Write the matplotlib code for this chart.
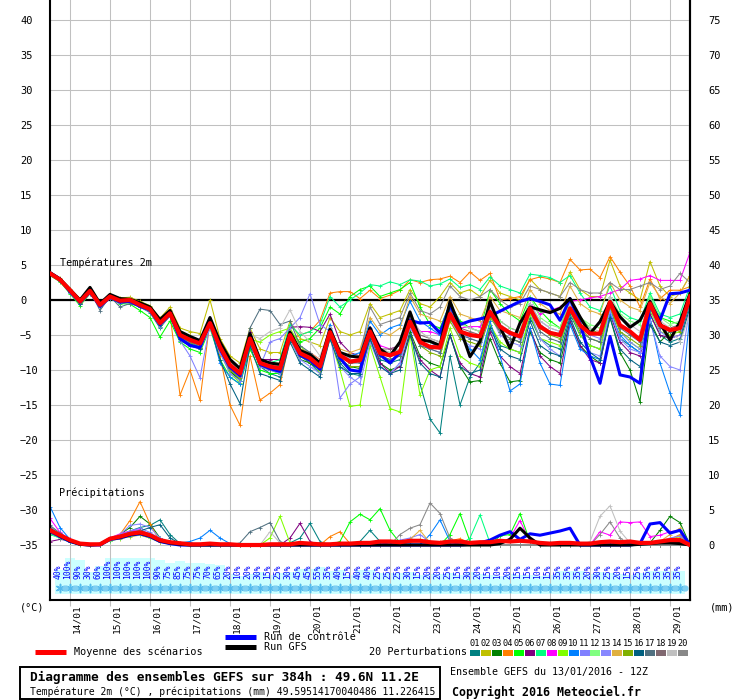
import matplotlib
matplotlib.use("Agg")
import matplotlib.pyplot as plt
from matplotlib import transforms
from matplotlib.patches import Rectangle

plt.rcParams['font.family'] = ['DejaVu Sans Mono']

# time axis: hours after 13/01/2016 12Z, one value every 6 h
steps = list(range(0, 385, 6))
day_hours = [12, 36, 60, 84, 108, 132, 156, 180, 204, 228, 252, 276, 300, 324, 348, 372]
day_labels = ["14/01", "15/01", "16/01", "17/01", "18/01", "19/01", "20/01", "21/01",
              "22/01", "23/01", "24/01", "25/01", "26/01", "27/01", "28/01", "29/01"]

# percentages shown in the bottom strip (steps 6h .. 378h)
pct = [40, 100, 90, 30, 60, 100, 100, 100, 100, 100, 90, 75, 85, 75, 75, 70, 65, 20, 10, 20, 30,
       15, 25, 30, 45, 45, 55, 35, 40, 15, 40, 40, 25, 25, 25, 30, 15, 20, 20, 25, 15, 30,
       20, 15, 10, 20, 15, 15, 10, 15, 35, 35, 35, 20, 30, 25, 20, 15, 25, 35, 35, 35, 35]
pct_hours = steps[1:64]

# ---- temperature 2m (°C) ----
t_mean = [3.8, 2.9, 1.4, -0.2, 1.3, -0.7, 0.5, -0.1, 0.0, -0.7, -1.3, -3.3, -1.9, -5.0, -5.7,
          -6.2, -3.3, -6.7, -9.3, -10.5, -5.5, -9.0, -9.5, -9.8, -5.0, -7.6, -8.3, -9.5, -4.6, -7.9,
          -8.8, -8.6, -4.5, -7.6, -7.9, -7.4, -3.1, -6.0, -6.7, -6.8, -2.0, -4.5, -5.0, -5.2, -1.7,
          -3.8, -4.7, -5.2, -1.2, -3.8, -4.7, -5.0, -1.2, -3.6, -4.8, -4.8, -0.3, -3.6, -4.5, -5.7,
          -0.5, -3.6, -4.3, -4.0, 0.5]
t_ctrl = [3.9, 3.0, 1.2, -0.3, 1.2, -0.9, 0.4, -0.3, -0.2, -0.9, -1.4, -3.5, -2.0, -5.5, -6.5,
          -6.8, -3.0, -7.0, -9.6, -10.8, -5.2, -9.2, -9.8, -10.2, -4.8, -7.9, -8.6, -9.9, -4.4, -8.3,
          -10.0, -10.2, -4.0, -7.8, -9.0, -7.5, -2.9, -3.3, -3.2, -4.7, -0.8, -3.5, -3.0, -2.7, -2.3,
          -1.6, -0.9, -0.2, 0.2, -0.2, -0.7, -2.9, 0.2, -3.3, -8.1, -11.9, -5.2, -10.7, -11.0, -11.9,
          -0.5, -2.9, 0.9, 1.0, 1.4]
t_gfs = [3.9, 3.0, 1.5, 0.0, 1.8, -0.5, 0.8, 0.2, 0.1, -0.4, -1.0, -2.8, -1.5, -4.5, -5.2,
         -5.8, -2.5, -6.0, -8.5, -9.8, -4.8, -8.5, -9.0, -9.2, -4.6, -7.2, -7.8, -9.0, -4.2, -7.5,
         -8.0, -8.2, -4.0, -7.0, -8.0, -6.0, -1.7, -5.7, -5.9, -6.5, -0.2, -4.0, -8.1, -5.9, -0.2,
         -3.8, -6.9, -3.3, -1.0, -1.4, -1.8, -1.2, 0.2, -2.4, -4.8, -3.1, -0.2, -2.4, -3.9, -2.9,
         -0.2, -3.3, -5.7, -3.1, 0.9]

t01 = [3.6, 2.8, 1.0, -0.5, 1.0, -0.9, 0.3, -0.4, -0.3, -1.0, -1.8, -4.0, -2.2, -5.8, -6.5,
       -7.0, -3.5, -7.2, -10.0, -11.5, -6.0, -9.5, -10.5, -11.0, -5.5, -8.0, -9.0, -10.5, -5.0, -9.0,
       -10.5, -10.8, -5.5, -8.5, -9.0, -8.5, -4.0, -12.0, -17.0, -19.0, -8.0, -15.0, -11.0, -9.0, -3.5,
       -6.5, -7.0, -7.5, -2.5, -5.5, -6.5, -7.0, -2.0, -5.0, -6.5, -7.0, -1.0, -5.5, -6.5, -7.5,
       -2.0, -5.0, -6.0, -5.5, -0.5]
t02 = [3.9, 3.1, 1.6, 0.2, 1.6, -0.4, 0.8, 0.3, 0.4, -0.2, -0.8, -2.6, -1.0, -4.0, -4.5,
       -4.8, 0.0, -5.5, -8.0, -9.0, -4.0, -7.0, -7.5, -7.5, -3.0, -5.5, -6.0, -6.5, -2.5, -4.5,
       -5.0, -4.5, -0.5, -2.5, -2.0, -1.5, 1.5, -0.5, -1.0, 0.5, 2.5, 1.0, 1.5, 0.5, 2.8,
       1.0, 0.5, 0.0, 3.0, 1.5, 1.0, 0.5, 4.0, 1.5, 0.5, 0.5, 5.7, 2.0, 1.0, 0.0,
       5.5, 2.0, 0.5, 1.0, 3.5]
t03 = [3.7, 2.8, 1.2, -0.4, 1.1, -0.8, 0.4, -0.2, -0.1, -0.8, -1.5, -3.8, -2.3, -5.5, -6.3,
       -6.8, -3.8, -7.5, -10.2, -11.5, -6.0, -9.5, -10.0, -10.5, -5.5, -8.5, -9.0, -10.0, -5.0, -8.5,
       -9.5, -9.8, -5.5, -9.0, -10.0, -9.5, -4.5, -8.0, -9.0, -9.5, -5.0, -9.5, -11.7, -11.5, -5.5,
       -9.0, -11.7, -11.5, -4.5, -7.5, -8.5, -9.0, -3.0, -6.5, -8.0, -9.0, -2.5, -7.5, -10.0, -14.5,
       -3.0, -6.0, -4.5, -3.5, 1.0]
t04 = [3.8, 2.9, 1.3, -0.3, 1.4, -0.6, 0.6, 0.0, -0.2, -1.0, -1.6, -3.5, -2.0, -13.6, -10.0,
       -14.3, -3.0, -8.0, -15.0, -17.9, -8.0, -14.3, -13.3, -12.1, -5.7, -5.0, -4.5, -2.9, 1.0, 1.2,
       1.2, 0.2, 1.4, 0.2, 0.7, 1.4, 2.9, 2.5, 2.9, 3.0, 3.4, 2.5, 4.0, 2.8, 3.8,
       0.0, 0.2, 0.5, 2.9, 3.3, 3.0, 2.5, 5.8, 4.3, 4.4, 3.2, 6.2, 4.0, 2.0, -1.0,
       3.0, 0.2, 1.4, 1.4, 1.9]
t05 = [3.5, 2.6, 0.9, -0.8, 0.9, -1.0, 0.2, -0.5, -0.6, -1.5, -2.5, -5.3, -3.0, -6.0, -7.0,
       -7.5, -4.0, -8.5, -11.0, -12.0, -7.0, -10.0, -10.5, -10.5, -4.5, -6.0, -5.5, -4.0, -1.0, -2.0,
       0.5, 1.5, 2.0, 0.5, 1.0, 1.5, 2.5, -1.0, -3.5, -4.0, -0.5, -3.0, -4.0, -4.5, 1.5,
       -0.5, -2.0, -3.0, 0.5, -1.5, -3.0, -4.0, 0.0, -2.5, -4.0, -5.0, -1.0, -3.5, -4.5, -5.5,
       0.5, -2.5, -3.0, -3.5, 1.5]
t06 = [3.8, 3.0, 1.5, 0.0, 1.5, -0.5, 0.7, 0.1, 0.2, -0.5, -1.0, -3.0, -1.5, -4.8, -5.5,
       -6.0, -3.0, -6.5, -9.0, -10.0, -4.5, -8.5, -8.5, -8.5, -3.9, -3.8, -3.9, -4.5, -2.0, -6.0,
       -7.5, -8.0, -5.0, -9.0, -10.4, -9.5, -5.0, -8.5, -10.0, -11.0, -5.0, -9.0, -10.5, -11.0, -4.5,
       -8.0, -9.5, -10.5, -4.0, -8.0, -9.5, -10.5, -3.0, -6.5, -8.5, -9.0, -2.0, -6.0, -7.5, -8.0,
       -2.0, -5.0, -5.5, -5.0, 0.0]
t07 = [3.8, 2.8, 1.3, -0.3, 1.2, -0.7, 0.5, -0.1, 0.0, -0.6, -1.2, -3.2, -1.8, -5.2, -6.0,
       -6.5, -3.5, -7.0, -9.5, -11.0, -6.0, -9.0, -9.0, -8.5, -3.5, -5.0, -4.5, -3.5, 0.5, -1.0,
       0.0, 1.0, 2.2, 2.0, 2.6, 2.2, 2.9, 2.7, 2.0, 2.3, 3.0, 1.8, 2.2, 1.5, 3.3,
       2.0, 1.5, 1.0, 3.7, 3.5, 3.2, 2.5, 3.5, 1.0, -1.0, -1.5, 2.0, -1.5, -2.5, -3.0,
       1.0, -2.0, -2.5, -2.0, 2.0]
t08 = [3.9, 3.0, 1.4, -0.1, 1.4, -0.6, 0.6, 0.0, 0.1, -0.6, -1.1, -2.9, -1.7, -4.5, -5.5,
       -6.0, -3.0, -6.5, -9.5, -11.0, -5.5, -9.0, -9.5, -10.0, -5.0, -7.0, -7.5, -8.5, -4.0, -7.5,
       -8.5, -8.5, -4.0, -6.5, -7.0, -6.5, -2.5, -4.5, -4.5, -5.0, -1.5, -4.0, -3.8, -3.8, -1.0,
       -3.0, -4.0, -4.5, -0.5, -2.0, -1.5, -1.0, -0.2, 0.0, 0.3, 0.5, 1.0, 1.5, 2.8, 3.0,
       3.5, 2.8, 2.8, 2.8, 6.8]
t09 = [3.7, 2.7, 1.1, -0.6, 1.0, -0.9, 0.3, -0.3, -0.2, -0.9, -1.6, -3.6, -2.0, -5.4, -6.2,
       -6.6, -3.6, -7.5, -10.5, -11.8, -5.6, -6.0, -5.0, -4.5, -4.0, -6.5, -8.0, -10.5, -5.5, -10.0,
       -15.2, -15.0, -6.5, -11.0, -15.5, -16.0, -5.0, -13.6, -10.0, -9.5, -4.0, -8.0, -9.0, -9.5, -3.5,
       -6.0, -7.0, -7.5, -2.0, -5.5, -6.0, -6.5, -1.5, -5.0, -6.5, -7.0, -1.0, -4.5, -6.0, -7.0,
       -1.5, -4.5, -5.0, -4.5, 0.5]
t10 = [3.6, 2.7, 1.2, -0.5, 1.1, -0.8, 0.4, -0.2, -0.1, -0.8, -1.4, -3.4, -2.0, -5.3, -6.0,
       -6.8, -3.4, -9.0, -11.0, -12.0, -6.5, -9.0, -9.5, -9.5, -4.5, -7.0, -7.5, -9.0, -3.5, -7.5,
       -8.0, -7.5, -3.0, -5.0, -4.0, -3.5, -0.2, -3.0, -4.0, -5.0, -1.0, -5.0, -7.0, -8.5, -3.0,
       -8.0, -13.0, -12.0, -4.0, -9.0, -12.0, -12.2, -3.5, -7.0, -8.0, -8.5, -2.0, -5.0, -6.5, -7.5,
       -2.5, -9.0, -13.3, -16.4, -2.0]
t11 = [3.7, 2.8, 1.3, -0.4, 1.2, -0.8, 0.4, -0.2, -0.1, -0.8, -1.4, -3.2, -2.0, -5.8, -8.0,
       -11.1, -3.5, -7.5, -10.5, -11.5, -6.0, -9.5, -6.0, -5.5, -4.0, -2.5, 0.9, -3.5, -4.5, -14.0,
       -12.0, -11.0, -5.0, -9.5, -10.5, -9.0, -3.0, -5.5, -6.0, -7.0, -1.5, -4.5, -5.5, -6.0, -2.0,
       -4.0, -5.0, -5.5, -0.5, -3.0, -4.0, -4.5, -0.5, -3.5, -5.0, -5.5, 0.5, -4.5, -6.0, -7.0,
       -1.0, -4.5, -5.5, -5.0, 0.0]
t12 = [3.8, 2.9, 1.4, -0.2, 1.3, -0.6, 0.6, 0.0, 0.1, -0.5, -1.0, -3.0, -1.5, -4.8, -5.5,
       -6.0, -3.2, -6.5, -9.0, -10.0, -5.0, -8.5, -9.0, -9.5, -4.8, -7.0, -7.8, -9.0, -4.5, -7.5,
       -8.0, -8.0, -4.0, -7.0, -7.5, -7.0, -2.5, -5.5, -6.0, -6.5, -1.5, -3.5, -4.0, -4.5, -0.5,
       -3.0, -4.0, -4.5, 0.5, -2.5, -3.5, -4.0, 0.0, -2.5, -3.5, -4.0, 0.5, -2.0, -3.0, -3.5,
       0.5, -2.5, -3.5, -3.0, 1.0]
t13 = [3.6, 2.7, 1.0, -0.6, 0.9, -1.0, 0.2, -0.4, -0.3, -1.0, -1.7, -3.8, -2.3, -5.5, -6.5,
       -7.0, -4.0, -7.5, -10.0, -11.0, -6.0, -9.5, -10.0, -10.5, -5.5, -8.5, -9.5, -10.5, -5.5, -9.5,
       -11.0, -12.0, -6.0, -9.5, -10.5, -9.0, -4.0, -6.5, -7.0, -7.5, -2.5, -5.5, -6.5, -7.0, -2.0,
       -5.0, -6.0, -6.5, -1.5, -5.5, -7.0, -8.0, -2.5, -6.0, -7.5, -8.0, -1.5, -5.5, -7.0, -7.5,
       -3.0, -8.0, -9.5, -10.0, -1.0]
t14 = [3.9, 3.0, 1.5, 0.0, 1.5, -0.5, 0.7, 0.1, 0.2, -0.4, -1.0, -2.8, -1.4, -4.5, -5.2,
       -5.8, -2.8, -6.0, -8.8, -10.0, -5.0, -8.5, -9.0, -9.0, -4.5, -7.0, -7.5, -8.5, -4.0, -7.0,
       -7.5, -7.0, -2.5, -4.5, -5.0, -4.0, 0.5, -2.0, -2.5, -3.0, 0.5, -2.0, -2.5, -3.0, 0.5,
       -1.5, -2.0, -2.5, 1.5, -0.5, -1.5, -2.0, 2.0, -0.5, -1.5, -2.0, 2.5, 0.0, -1.0, -1.5,
       2.5, 0.5, -0.5, 1.0, 3.5]
t15 = [3.7, 2.8, 1.2, -0.4, 1.2, -0.8, 0.4, -0.2, -0.1, -0.8, -1.4, -3.4, -2.0, -5.5, -6.2,
       -6.8, -3.5, -7.0, -10.0, -11.2, -6.0, -9.2, -9.8, -10.0, -5.2, -8.0, -8.8, -10.0, -5.0, -8.5,
       -9.5, -9.5, -5.0, -8.0, -8.5, -8.0, -3.5, -6.5, -7.5, -8.0, -3.0, -5.5, -6.0, -6.5, -2.5,
       -4.5, -5.5, -6.0, -1.5, -4.0, -5.0, -5.5, -1.5, -4.0, -5.5, -6.0, -1.0, -4.5, -5.5, -6.5,
       -1.0, -3.5, -4.0, -4.5, 0.5]
t16 = [3.6, 2.7, 1.1, -0.6, 1.0, -0.9, 0.3, -0.3, -0.2, -0.9, -1.6, -3.6, -2.1, -5.6, -6.3,
       -7.0, -3.6, -8.5, -12.0, -14.8, -6.5, -10.5, -11.0, -11.5, -6.0, -9.0, -10.0, -11.0, -5.5, -9.5,
       -10.5, -10.5, -5.5, -9.5, -10.5, -10.0, -5.0, -9.0, -10.5, -11.0, -5.0, -9.5, -10.5, -10.0, -4.0,
       -7.0, -8.0, -8.5, -3.0, -6.5, -7.5, -8.0, -2.5, -6.0, -7.5, -8.5, -2.5, -7.0, -8.5, -9.5,
       -3.5, -6.0, -6.5, -6.0, -1.0]
t17 = [3.8, 2.9, 1.4, -0.2, 1.3, -1.5, 0.5, -1.0, -0.5, -1.0, -1.6, -3.3, -1.8, -5.0, -5.6,
       -6.2, -3.3, -6.5, -9.0, -10.0, -4.0, -1.3, -1.5, -3.5, -3.0, -6.5, -7.5, -9.0, -4.5, -8.0,
       -9.0, -9.0, -4.5, -8.0, -8.5, -8.0, -3.5, -6.5, -7.0, -7.5, -2.5, -5.0, -5.5, -6.0, -2.0,
       -4.5, -5.5, -6.0, -1.5, -4.5, -5.5, -6.0, -1.5, -4.5, -5.5, -6.0, -0.5, -4.0, -5.0, -6.0,
       -1.0, -4.0, -4.5, -4.0, 0.5]
t18 = [3.7, 2.8, 1.3, -0.3, 1.2, -0.7, 0.5, -0.1, 0.0, -0.7, -1.3, -3.3, -1.9, -5.2, -6.0,
       -6.5, -3.5, -7.0, -9.5, -10.8, -5.8, -9.3, -9.8, -10.2, -5.3, -7.8, -8.5, -9.8, -4.8, -8.0,
       -9.0, -8.8, -4.2, -7.0, -7.0, -6.5, -2.5, -5.0, -5.5, -6.0, -1.5, -4.0, -4.5, -5.0, -1.5,
       -3.5, -4.5, -5.0, -1.0, -3.5, -4.5, -5.0, -1.0, -3.5, -4.5, -5.0, -0.5, -3.5, -4.5, -5.5,
       -0.5, -3.5, -4.0, -3.5, 1.0]
t19 = [3.8, 2.9, 1.4, -0.1, 1.4, -0.6, 0.6, 0.0, 0.1, -0.6, -1.2, -3.1, -1.8, -4.8, -5.5,
       -6.0, -3.0, -6.5, -9.0, -10.0, -5.0, -5.5, -4.5, -4.0, -1.4, -4.5, -6.0, -8.0, -4.0, -7.5,
       -8.5, -8.5, -4.0, -7.0, -7.5, -7.0, -2.0, -4.5, -5.5, -6.0, -1.0, -3.5, -4.0, -4.5, -1.0,
       -3.5, -4.5, -5.0, -0.5, -3.0, -4.0, -4.5, -0.5, -3.0, -4.0, -4.5, 0.5, -2.5, -3.5, -4.5,
       0.0, -3.0, -4.0, -6.0, -2.0]
t20 = [3.9, 3.0, 1.5, 0.0, 1.5, -0.5, 0.7, 0.1, 0.2, -0.5, -1.1, -3.0, -1.6, -4.8, -5.5,
       -6.0, -3.0, -6.5, -9.2, -10.5, -5.2, -8.8, -9.2, -9.5, -4.8, -7.3, -8.0, -9.2, -4.3, -7.5,
       -8.2, -8.0, -1.0, -3.5, -3.0, -2.5, 1.0, -1.5, -2.0, -1.0, 2.0, 0.5, 0.0, 0.5, 1.5,
       0.0, -1.0, -0.5, 2.0, 1.5, 1.0, 0.5, 2.5, 1.5, 1.0, 1.0, 2.5, 1.5, 1.5, 2.0,
       2.5, 1.5, 2.0, 3.8, 2.5]

# ---- precipitation (mm per 6 h) ----
p_mean = [2.1, 1.4, 0.7, 0.2, 0.1, 0.1, 0.9, 1.2, 1.6, 1.8, 1.4, 0.7, 0.4, 0.25, 0.1,
          0.1, 0.2, 0.1, 0.1, 0.0, 0.0, 0.0, 0.1, 0.1, 0.1, 0.3, 0.2, 0.1, 0.1, 0.2,
          0.2, 0.3, 0.3, 0.5, 0.5, 0.4, 0.6, 0.6, 0.4, 0.3, 0.5, 0.5, 0.3, 0.4, 0.4,
          0.6, 0.5, 0.6, 0.5, 0.3, 0.2, 0.3, 0.3, 0.2, 0.2, 0.4, 0.5, 0.4, 0.5, 0.3,
          0.3, 0.5, 0.7, 0.7, 0.0]
p_ctrl = [2.0, 1.2, 0.5, 0.1, 0.0, 0.0, 0.8, 1.0, 1.4, 1.6, 1.2, 0.5, 0.2, 0.0, 0.0,
          0, 0, 0, 0, 0, 0, 0, 0, 0, 0, 0, 0, 0, 0, 0,
          0, 0, 0, 0, 0, 0, 0, 0, 0, 0, 0, 0, 0.1, 0.3, 0.7,
          1.4, 1.9, 0.8, 1.6, 1.4, 1.7, 2.0, 2.4, 0.0, 0.0, 0, 0, 0, 0, 0.2,
          3.0, 3.2, 1.7, 2.1, 0.0]
p_gfs = [2.2, 1.3, 0.6, 0.1, 0.0, 0.1, 0.9, 1.1, 1.5, 1.7, 1.3, 0.6, 0.3, 0.1, 0.0,
         0, 0, 0, 0, 0, 0, 0, 0, 0, 0, 0, 0, 0, 0, 0,
         0, 0, 0, 0, 0, 0, 0, 0, 0, 0, 0, 0, 0, 0, 0,
         0.2, 0.8, 2.4, 1.0, 0.0, 0, 0, 0, 0, 0, 0, 0, 0, 0, 0.1,
         0.2, 0.3, 0.3, 0.2, 0.0]

p01 = [2.5, 1.5, 0.6, 0.1, 0.0, 0.0, 0.8, 1.3, 2.0, 2.5, 2.8, 3.6, 1.5, 0.2, 0.0,
       0, 0, 0, 0, 0, 0, 0, 0, 0, 0.3, 1.0, 3.1, 0.5, 0, 0,
       0, 0.5, 2.1, 0.5, 0, 0, 0, 0, 0, 0, 0, 0, 0, 0, 0,
       0, 0, 0, 0, 0, 0.3, 0.2, 0, 0, 0, 0, 0, 0, 0, 0,
       0, 0.3, 0.5, 0.5, 0]
p02 = [1.8, 1.2, 0.5, 0.1, 0.0, 0.1, 0.6, 0.9, 1.2, 1.4, 1.0, 0.4, 0.2, 0, 0,
       0, 0, 0, 0, 0, 0, 0, 0, 0, 0, 0, 0, 0, 0, 0,
       0, 0, 0, 0, 0, 0, 0.5, 0.8, 0.3, 0, 0, 0, 0, 0, 0,
       0, 0, 0, 0, 0, 0, 0, 0, 0, 0, 0, 0, 0, 0, 0,
       0, 0.3, 0.8, 1.2, 0]
p03 = [2.2, 1.4, 0.6, 0.1, 0.0, 0.1, 0.9, 1.5, 2.5, 4.1, 3.0, 1.0, 0.3, 0, 0,
       0, 0, 0, 0, 0, 0, 0, 0, 0, 0, 0, 0, 0, 0, 0,
       0, 0, 0, 0, 0, 0, 0, 0, 0, 0, 0, 0, 0, 0, 0,
       0, 0, 0, 0, 0, 0, 0, 0, 0, 0, 0, 0, 0, 0, 0,
       0.3, 2.1, 4.1, 3.2, 0]
p04 = [2.0, 1.3, 0.6, 0.1, 0.0, 0.1, 0.7, 1.5, 3.5, 6.2, 3.0, 0.5, 0.1, 0, 0,
       0, 0, 0, 0, 0, 0, 0, 0, 0, 0, 0, 0, 0, 1.2, 1.9,
       0.2, 0, 0, 0, 0, 0, 0, 0, 0.3, 0.5, 0.6, 0.9, 0.3, 0, 0,
       0, 0, 0, 0, 0, 0, 0, 0, 0, 0, 0, 0, 0.6, 0.4, 0,
       0, 0.3, 0.8, 1.5, 0]
p05 = [2.3, 1.6, 0.7, 0.2, 0.0, 0.0, 1.0, 1.4, 1.8, 2.0, 1.5, 0.8, 0.3, 0, 0,
       0, 0, 0, 0, 0, 0, 0, 0, 0, 0, 0, 0, 0, 0, 0.5,
       3.3, 4.4, 3.6, 5.2, 2.1, 0.3, 0, 0, 0, 0, 1.5, 4.5, 0.5, 0, 0,
       1.3, 1.5, 4.5, 0.5, 0, 0, 0, 0, 0, 0, 0, 0, 0, 0, 0,
       0, 0, 0, 0.8, 0]
p06 = [0.5, 0.8, 0.6, 0.1, 0.0, 0.1, 0.8, 1.2, 1.6, 1.8, 1.3, 0.6, 0.2, 0, 0,
       0, 0, 0, 0, 0, 0, 0, 0, 0, 1.0, 3.1, 0.5, 0, 0, 0,
       0, 0, 0, 0, 0, 0, 0, 0, 0, 0, 0, 0, 0, 0, 0,
       0, 0, 0, 0, 0, 0, 0, 0, 0, 0, 0, 0, 0, 0, 0,
       0, 0, 0, 0.5, 0]
p07 = [1.5, 1.0, 0.4, 0.0, 0.0, 0.0, 0.6, 1.0, 1.5, 2.0, 1.2, 0.5, 0.1, 0, 0,
       0, 0, 0, 0, 0, 0, 0, 0, 0, 0, 0, 0, 0, 0, 0,
       0, 0, 0, 0, 0, 0, 0, 0, 0, 0, 0, 0, 1.0, 4.3, 0.3,
       0, 0, 0, 0, 0, 0, 0, 0, 0, 0, 0, 0, 0, 0, 0,
       0, 0, 0.5, 0.8, 0]
p08 = [3.8, 1.8, 0.8, 0.2, 0.0, 0.1, 1.0, 1.6, 2.0, 2.2, 1.5, 0.7, 0.2, 0, 0,
       0, 0, 0, 0, 0, 0, 0, 0, 0, 0, 0, 0, 0, 0, 0,
       0, 0, 0, 0, 0, 0, 0, 0, 0, 0, 0, 0, 0, 0, 0,
       0, 1.0, 3.5, 0.5, 0, 0, 0, 0, 0, 0, 1.9, 1.4, 3.3, 3.2, 3.3,
       1.2, 1.4, 1.9, 2.1, 0]
p09 = [2.0, 1.3, 0.5, 0.1, 0.0, 0.0, 0.7, 1.1, 1.5, 1.7, 1.2, 0.5, 0.1, 0, 0,
       0, 0, 0, 0, 0, 0, 0, 1.0, 4.1, 0.3, 0, 0, 0, 0, 0,
       0, 0, 0, 0, 0, 0, 0, 0, 0, 0, 0, 0, 0, 0, 0,
       0, 0, 0, 0, 0, 0, 0, 0, 0, 0, 0, 0, 0, 0, 0,
       0, 0, 0, 0, 0]
p10 = [5.5, 2.5, 0.8, 0.1, 0.0, 0.1, 0.8, 1.2, 1.6, 1.8, 1.4, 0.8, 0.5, 0.3, 0.5,
       1.0, 2.1, 1.0, 0.2, 0, 0, 0, 0, 0, 0, 0, 0, 0, 0, 0,
       0, 0, 0, 0, 0, 0, 0, 0, 1.5, 3.6, 0.5, 0, 0, 0, 0,
       0, 0, 0, 0, 0, 0, 0, 0, 0, 0, 0, 0, 0, 0, 0,
       0, 0, 0, 0, 0]
p11 = [2.4, 1.5, 0.7, 0.1, 0.0, 0.1, 0.9, 1.4, 2.0, 2.4, 1.8, 0.9, 0.3, 0, 0,
       0, 0, 0, 0, 0, 0, 0, 0, 0, 0, 0, 0, 0, 0, 0,
       0, 0, 0, 0, 0.5, 0.7, 1.0, 1.5, 0.4, 0, 0, 0, 0, 0, 0,
       0, 0, 0, 0, 0, 0, 0, 0, 0, 0, 0, 0, 0, 0, 0,
       0, 0.5, 1.0, 1.3, 0]
p12 = [1.6, 1.0, 0.4, 0.0, 0.0, 0.0, 0.6, 1.0, 1.3, 1.5, 1.0, 0.4, 0.1, 0, 0,
       0, 0, 0, 0, 0, 0, 0, 0, 0, 0, 0, 0, 0, 0, 0,
       0, 0, 0, 0, 0, 0, 0, 0, 0, 0, 0, 0, 0, 0, 0,
       0, 0, 0, 0, 0, 0, 0, 0, 0, 0, 0, 0, 0, 0, 0,
       0, 0, 0, 0, 0]
p13 = [2.6, 1.7, 0.8, 0.2, 0.0, 0.1, 1.0, 1.5, 2.8, 3.0, 2.5, 1.0, 0.3, 0, 0,
       0, 0, 0, 0, 0, 0, 0, 0, 0, 0, 0, 0, 0, 0, 0,
       0, 0, 0, 0, 0, 0, 0, 0, 0, 0, 0, 0, 0, 0, 0,
       0, 0, 0, 0, 0, 0, 0, 0, 0, 0, 0, 0, 0, 0, 0,
       0, 0, 0, 0, 0]
p14 = [1.9, 1.2, 0.5, 0.1, 0.0, 0.1, 0.7, 1.1, 1.4, 1.6, 1.1, 0.4, 0.1, 0, 0,
       0, 0, 0, 0, 0, 0, 0, 0, 0, 0, 0, 0, 0, 0, 0,
       0, 0, 0, 0, 0, 0, 0.8, 2.1, 0.3, 0, 0, 0, 0, 0, 0,
       0, 0, 0, 0, 0, 0, 0, 0, 0, 0, 0, 0, 0, 0, 0,
       0, 0.5, 1.5, 2.4, 0]
p15 = [2.2, 1.4, 0.6, 0.1, 0.0, 0.0, 0.8, 1.2, 1.7, 1.9, 1.4, 0.6, 0.2, 0, 0,
       0, 0, 0, 0, 0, 0, 0, 0, 0, 0, 0, 0, 0, 0, 0,
       0, 0, 0, 0, 0, 0, 0, 0, 0, 0, 0, 0, 0, 0, 0,
       0, 0, 0, 0, 0, 0, 0, 0, 0, 0, 0, 0, 0, 0, 0,
       0, 0, 0, 0, 0]
p16 = [1.7, 1.1, 0.5, 0.1, 0.0, 0.0, 0.7, 1.1, 1.5, 2.0, 2.5, 2.9, 1.0, 0.2, 0,
       0, 0, 0, 0, 0, 0, 0, 0, 0, 0, 0, 0, 0, 0, 0,
       0, 0, 0, 0, 0, 0, 0, 0, 0, 0, 0, 0, 0, 0, 0,
       0, 0, 0, 0, 0, 0, 0, 0, 0, 0, 0, 0, 0, 0, 0,
       0, 0, 0, 0, 0]
p17 = [2.8, 1.7, 0.7, 0.1, 0.0, 0.1, 0.9, 1.3, 1.8, 2.1, 1.6, 0.7, 0.2, 0, 0,
       0, 0, 0, 0, 0.3, 1.9, 2.5, 3.2, 0.5, 0, 0, 0, 0, 0, 0,
       0, 0, 0, 0, 0, 0, 0, 0, 0, 0, 0, 0, 0, 0, 0,
       0, 0, 0, 0, 0, 0, 0, 0, 0, 0, 0, 0, 0, 0, 0,
       0, 0, 0, 0, 0]
p18 = [2.0, 1.3, 0.6, 0.1, 0.0, 0.1, 0.8, 1.2, 1.6, 1.8, 1.3, 0.6, 0.2, 0, 0,
       0, 0, 0, 0, 0, 0, 0, 0, 0, 0, 0, 0, 0, 0, 0,
       0, 0, 0, 0, 0, 0, 0, 0, 0, 0, 0, 0, 0, 0, 0,
       0, 0, 0, 0, 0, 0, 0, 0, 0, 0, 0, 0, 0, 0, 0,
       0, 0, 0, 0.4, 0]
p19 = [2.3, 1.5, 0.6, 0.1, 0.0, 0.1, 0.8, 1.2, 1.7, 1.9, 1.4, 0.6, 0.2, 0, 0,
       0, 0, 0, 0, 0, 0, 0, 1.9, 0.3, 0, 0, 0, 0, 0, 0,
       0, 0, 0, 0, 0, 0, 0, 0, 0, 0, 0, 0, 0, 0, 0,
       0, 0, 0, 0, 0, 0, 0, 0, 0, 0.5, 4.1, 5.6, 2.0, 0.3, 0,
       0, 0, 0, 0, 0]
p20 = [2.6, 1.6, 0.7, 0.2, 0.0, 0.1, 0.9, 1.3, 1.8, 2.0, 1.5, 0.7, 0.2, 0, 0,
       0, 0, 0, 0, 0, 0, 0, 0, 0, 0, 0, 0, 0, 0, 0,
       0, 0, 0, 0, 0, 1.5, 2.4, 2.9, 6.0, 4.5, 1.0, 0, 0, 0, 0,
       0, 0, 0, 0, 0, 0, 0, 0, 0, 0, 1.5, 3.3, 1.0, 0, 0,
       0, 0, 0, 0, 0]

member_colors = ['#008080', '#c0c000', '#008000', '#ff8000', '#00ff00', '#800080', '#00ff80',
                 '#ff00ff', '#80ff00', '#0080ff', '#8080ff', '#80ff80', '#8888ff', '#e0b040',
                 '#80b000', '#006080', '#507080', '#806870', '#c0c0c0', '#888888']
member_temps = [t01, t02, t03, t04, t05, t06, t07, t08, t09, t10,
                t11, t12, t13, t14, t15, t16, t17, t18, t19, t20]
member_precs = [p01, p02, p03, p04, p05, p06, p07, p08, p09, p10,
                p11, p12, p13, p14, p15, p16, p17, p18, p19, p20]

PRECIP_ZERO = -35  # 0 mm sits on the -35 °C line


def mm(vals):
    return [v + PRECIP_ZERO for v in vals]


fig = plt.figure(figsize=(7.4, 7.0), dpi=100)
ax = fig.add_axes([50 / 740, 100 / 700, 640 / 740, 600 / 700])
ax.set_xlim(0, 384)
ax.set_ylim(-300 / 7, 300 / 7)

ax.set_xticks(day_hours)
ax.set_yticks(range(-35, 45, 5))
ax.grid(True, color='#c0c0c0', lw=0.75)
ax.set_axisbelow(True)
ax.tick_params(axis='x', length=4, color='#c0c0c0', labelbottom=False)
ax.tick_params(axis='y', length=0, labelsize=7.5, pad=21.6)
for lab in ax.get_yticklabels():
    lab.set_ha('left')
for side in ['left', 'right', 'bottom']:
    ax.spines[side].set_linewidth(1.5)
ax.spines['top'].set_visible(False)

sec = ax.secondary_yaxis('right', functions=(lambda t: t - PRECIP_ZERO, lambda p: p + PRECIP_ZERO))
sec.set_yticks(range(0, 80, 5))
sec.tick_params(length=0, labelsize=7.5, pad=13)
sec.spines['right'].set_linewidth(1.5)

ax.axhline(0, color='black', lw=1.6, zorder=1.5)

# bottom strip: bars + percentages + snow symbols
bar_base = -42.0
bar_tops = [-39.7 + p * 0.0286 for p in pct]
ax.bar(pct_hours, [t - bar_base for t in bar_tops], width=6, bottom=bar_base,
       color='#ccffff', edgecolor='none', zorder=0.3)
ax.scatter(pct_hours, [-41.1] * len(pct_hours), marker=(6, 2, 0), s=34, color='#55bbee', lw=1.1, zorder=0.6)
ax.scatter([h + 3 for h in pct_hours], [-41.1] * len(pct_hours), marker='o', s=12, color='#7fcff2', zorder=0.6)
pct_tr = transforms.offset_copy(ax.transData, fig=fig, x=-2, y=0, units='dots')
for h, p in zip(pct_hours, pct):
    ax.text(h, -39.9, f"{p}%", rotation=90, ha='center', va='bottom', fontsize=5.8,
            color='#0000ff', transform=pct_tr)

# date labels
date_tr = transforms.offset_copy(transforms.blended_transform_factory(ax.transData, ax.transAxes),
                                 fig=fig, x=7, y=-4, units='dots')
for h, lab in zip(day_hours, day_labels):
    ax.text(h, 0, lab, rotation=90, ha='center', va='top', fontsize=6.8, transform=date_tr)

# perturbations
for color, temps, precs in zip(member_colors, member_temps, member_precs):
    ax.plot(steps, temps, color=color, lw=0.75, marker='+', ms=3, mew=0.6, zorder=2)
    ax.plot(steps, mm(precs), color=color, lw=0.75, marker='+', ms=3, mew=0.6, zorder=2)

ax.plot(steps, t_ctrl, color='#0000ff', lw=2.2, zorder=3)
ax.plot(steps, mm(p_ctrl), color='#0000ff', lw=2.2, zorder=3)
ax.plot(steps, t_gfs, color='black', lw=2.2, zorder=3.1)
ax.plot(steps, mm(p_gfs), color='black', lw=2.2, zorder=3.1)
ax.plot(steps, t_mean, color='#ff0000', lw=3.0, zorder=4)
ax.plot(steps, mm(p_mean), color='#ff0000', lw=3.0, zorder=4)

# overlay in pixel coordinates for the texts / legend
lay = fig.add_axes([0, 0, 1, 1])
lay.set_xlim(0, 740)
lay.set_ylim(700, 0)
lay.axis('off')

lay.text(60, 263, "Températures 2m", fontsize=7.3, va='center')
lay.text(59, 493, "Précipitations", fontsize=7.3, va='center')
lay.text(20, 607, "(°C)", fontsize=7.3, va='center')
lay.text(710, 607, "(mm)", fontsize=7.3, va='center')

lay.plot([225, 256], [636.5, 636.5], color='#0000ff', lw=3.6, solid_capstyle='butt')
lay.plot([225, 256], [646.5, 646.5], color='black', lw=3.6, solid_capstyle='butt')
lay.plot([35, 66], [651.5, 651.5], color='#ff0000', lw=3.6, solid_capstyle='butt')
lay.text(264, 637, "Run de contrôle", fontsize=7.3, va='center')
lay.text(264, 647, "Run GFS", fontsize=7.3, va='center')
lay.text(74, 652, "Moyenne des scénarios", fontsize=7.3, va='center')
lay.text(369, 652, "20 Perturbations", fontsize=7.3, va='center')

for j, c in enumerate(member_colors):
    x0 = 470 + 10.95 * j
    lay.add_patch(Rectangle((x0, 650), 10, 6, color=c, lw=0))
    lay.text(x0 + 5, 643, f"{j + 1:02d}", fontsize=6.2, ha='center', va='center')

lay.add_patch(Rectangle((20, 667), 420, 32, fill=False, edgecolor='black', lw=1.4))
lay.text(30, 677, "Diagramme des ensembles GEFS sur 384h : 49.6N 11.2E",
         fontsize=9.2, fontweight='bold', va='center')
lay.text(30, 692, "Température 2m (°C) , précipitations (mm) 49.59514170040486 11.226415",
         fontsize=7.0, va='center')
lay.text(450, 672, "Ensemble GEFS du 13/01/2016 - 12Z", fontsize=7.2, va='center')
lay.text(452, 692, "Copyright 2016 Meteociel.fr", fontsize=8.4, fontweight='bold', va='center')

fig.savefig("out.png", dpi=100)
